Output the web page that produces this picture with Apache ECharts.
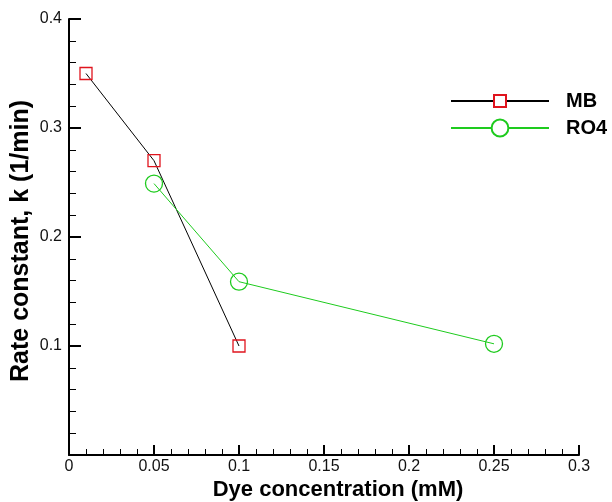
<!DOCTYPE html>
<html><head><meta charset="utf-8">
<script src="https://cdn.jsdelivr.net/npm/echarts@6/dist/echarts.min.js"></script>
<style>html,body{margin:0;padding:0;background:#fff}#c{width:612px;height:502px}</style>
</head><body><div id="c"></div>
<script>
var seriesNames = ['MB', 'RO4'];
var mbX = [0.01, 0.05, 0.1];
var mbY = [0.35, 0.27, 0.1];
var ro4X = [0.05, 0.1, 0.25];
var ro4Y = [0.249, 0.159, 0.102];
var xTicks = [0, 0.05, 0.1, 0.15, 0.2, 0.25, 0.3];
var yTicks = [0.1, 0.2, 0.3, 0.4];

function zip(a, b) { return a.map(function (v, i) { return [v, b[i]]; }); }
var chart = echarts.init(document.getElementById('c'), null, {renderer: 'canvas'});
var font = 'Liberation Sans, Arial, sans-serif';
var legendText = {fontFamily: font, fontWeight: 'bold', fontSize: 20, color: '#000', padding: [0, 0, 0, 12]};
chart.setOption({
  animation: false,
  grid: {left: 69, right: 33, top: 19, bottom: 47, containLabel: false, outerBoundsMode: 'none'},
  legend: [
    {orient: 'vertical', left: 450, top: 91, padding: 0, itemWidth: 98, itemHeight: 15,
     itemStyle: {color: '#fff'}, textStyle: legendText, data: [seriesNames[0]]},
    {orient: 'vertical', left: 450, top: 118, padding: 0, itemWidth: 98, itemHeight: 21,
     itemStyle: {color: '#fff'}, textStyle: legendText, data: [seriesNames[1]]}
  ],
  xAxis: {
    type: 'value', min: 0, max: 0.3, interval: 0.05,
    name: 'Dye concentration (mM)', nameLocation: 'middle', nameGap: 24, nameMoveOverlap: false,
    nameTextStyle: {fontFamily: font, fontWeight: 'bold', fontSize: 22, color: '#000', padding: [0, 0, 0, 28]},
    axisLine: {lineStyle: {color: '#000', width: 2}},
    axisTick: {inside: true, length: 10, lineStyle: {color: '#000', width: 2}},
    minorTick: {show: true, splitNumber: 5, length: 6, lineStyle: {color: '#000', width: 1}},
    axisLabel: {fontFamily: font, fontSize: 16, color: '#111', margin: 4,
      formatter: function (v) { var s = xTicks.find(function (t) { return Math.abs(t - v) < 1e-9; }); return s === undefined ? '' : String(s); }},
    splitLine: {show: false}
  },
  yAxis: {
    type: 'value', min: 0, max: 0.4, interval: 0.1,
    name: 'Rate constant, k (1/min)', nameLocation: 'middle', nameGap: 35, nameMoveOverlap: false,
    nameTextStyle: {fontFamily: font, fontWeight: 'bold', fontSize: 25, color: '#000', padding: [0, 0, 0, -8]},
    axisLine: {lineStyle: {color: '#000', width: 2}},
    axisTick: {inside: true, length: 12, lineStyle: {color: '#000', width: 2}},
    minorTick: {show: true, splitNumber: 5, length: 7, lineStyle: {color: '#000', width: 1}},
    axisLabel: {fontFamily: font, fontSize: 16, color: '#111', margin: 7,
      formatter: function (v) { var s = yTicks.find(function (t) { return Math.abs(t - v) < 1e-9; }); return s === undefined ? '' : String(s); }},
    splitLine: {show: false}
  },
  series: [
    {name: seriesNames[0], type: 'line', data: zip(mbX, mbY), symbol: 'rect', symbolSize: 12,
     lineStyle: {color: '#000', width: 1}, itemStyle: {color: 'rgba(255,255,255,0)', borderColor: '#e0141e', borderWidth: 1.3},
     emphasis: {disabled: true}},
    {name: seriesNames[1], type: 'line', data: zip(ro4X, ro4Y), symbol: 'circle', symbolSize: 17,
     lineStyle: {color: '#1ecb1e', width: 1}, itemStyle: {color: 'rgba(255,255,255,0)', borderColor: '#1ecb1e', borderWidth: 1.3},
     emphasis: {disabled: true}}
  ]
});
</script></body></html>
